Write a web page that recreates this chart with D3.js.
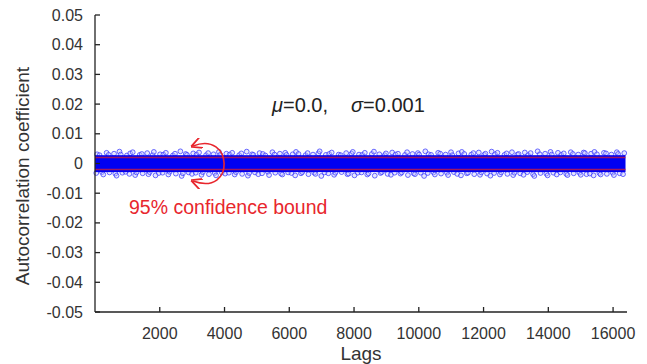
<!DOCTYPE html>
<html><head><meta charset="utf-8">
<script src="https://cdn.jsdelivr.net/npm/d3@7"></script>
<style>body{margin:0;background:#fff}svg{display:block}text{font-family:"Liberation Sans",Arial,Helvetica,sans-serif}</style>
</head><body><svg id="c" width="647" height="364"></svg>
<script>
// ---- data ----
const xTicks = [2000,4000,6000,8000,10000,12000,14000,16000];
const yTicks = [-0.05,-0.04,-0.03,-0.02,-0.01,0,0.01,0.02,0.03,0.04,0.05];
const yTickLabels = ["-0.05","-0.04","-0.03","-0.02","-0.01","0","0.01","0.02","0.03","0.04","0.05"];
const nLags = 16384;
const lagStep = 128;
// dense core of the scatter (solid blue), units 1e-3
const coreBand = [-2.9, 2.8];
// confidence bound, units 1e-3
const confBound = 2.0;
// upper outlying autocorrelation values (units 1e-3), one every 128 lags
const upperVals = [3.1,2.8,3.6,2.9,3.3,4.0,3.0,2.7,3.4,3.8,2.9,3.2,3.5,2.8,3.9,3.1,3.0,3.6,2.7,3.3,4.1,3.2,2.9,3.4,3.0,3.7,2.8,3.5,3.1,3.9,
2.9,3.3,3.0,3.6,2.8,3.4,4.0,3.1,2.9,3.5,3.2,2.7,3.8,3.0,3.3,3.6,2.9,3.1,3.9,3.2,2.8,3.5,3.0,3.4,4.1,2.9,3.2,3.7,3.0,2.8,
3.5,3.3,3.9,3.0,2.9,3.6,3.2,4.0,3.1,2.8,3.4,3.7,3.0,3.3,2.9,3.8,3.2,3.5,3.0,4.1,3.1,2.9,3.6,3.3,3.0,3.8,2.8,3.4,3.9,3.2,
3.0,3.5,3.7,2.9,3.3,4.0,3.1,3.6,2.9,3.4,3.8,3.0,3.2,3.7,2.8,3.5,4.1,3.1,3.3,3.9,3.0,3.6,2.9,3.4,3.8,3.2,3.0,3.7,3.5,3.3,
3.9,3.1,3.6,3.4,3.0,3.8,3.2,3.5];
// lower outlying autocorrelation values (units 1e-3)
const lowerVals = [-3.2,-2.9,-3.7,-3.0,-3.4,-4.1,-3.1,-2.8,-3.5,-3.9,-3.0,-3.3,-3.6,-2.9,-4.0,-3.2,-3.1,-3.7,-2.8,-3.4,-4.2,-3.3,-3.0,-3.5,-3.1,-3.8,-2.9,-3.6,-3.2,-4.0,
-3.0,-3.4,-3.1,-3.7,-2.9,-3.5,-4.1,-3.2,-3.0,-3.6,-3.3,-2.8,-3.9,-3.1,-3.4,-3.7,-3.0,-3.2,-4.0,-3.3,-2.9,-3.6,-3.1,-3.5,-4.2,-3.0,-3.3,-3.8,-3.1,-2.9,
-3.6,-3.4,-4.0,-3.1,-3.0,-3.7,-3.3,-4.1,-3.2,-2.9,-3.5,-3.8,-3.1,-3.4,-3.0,-3.9,-3.3,-3.6,-3.1,-4.2,-3.2,-3.0,-3.7,-3.4,-3.1,-3.9,-2.9,-3.5,-4.0,-3.3,
-3.1,-3.6,-3.8,-3.0,-3.4,-4.1,-3.2,-3.7,-3.0,-3.5,-3.9,-3.1,-3.3,-3.8,-2.9,-3.6,-4.2,-3.2,-3.4,-4.0,-3.1,-3.7,-3.0,-3.5,-3.9,-3.3,-3.1,-3.8,-3.6,-3.4,
-4.0,-3.2,-3.7,-3.5,-3.1,-3.9,-3.3,-3.6];
// lag offsets (fraction of a step) for the outlying points
const upperOffsets = [0.5, 0.1, 0.8, 0.3, 0.6, 0.9, 0.2, 0.7];
const lowerOffsets = [0.3, 0.7, 0.0, 0.5, 0.9, 0.2, 0.6, 0.4];

// ---- chart ----
const svg = d3.select("#c");
const x = d3.scaleLinear().domain([0, 16430]).range([95, 627]);
const y = d3.scaleLinear().domain([-0.05, 0.05]).range([312, 15]);
const k = 1e-3;

const pts = [];
upperVals.forEach((v,i)=>pts.push([ (i+upperOffsets[i%8])*lagStep, v*k ]));
lowerVals.forEach((v,i)=>pts.push([ (i+lowerOffsets[i%8])*lagStep, v*k ]));
svg.append("g").selectAll("circle").data(pts).join("circle")
  .attr("cx", d=>x(d[0])).attr("cy", d=>y(d[1])).attr("r", 2.4)
  .attr("fill", "#c4c4ff").attr("fill-opacity", 0.4)
  .attr("stroke", "#3a3aff").attr("stroke-opacity", 0.75).attr("stroke-width", 1);

// core band
svg.append("rect")
  .attr("x", x(0)).attr("width", x(nLags) - x(0))
  .attr("y", y(coreBand[1]*k)).attr("height", y(coreBand[0]*k) - y(coreBand[1]*k))
  .attr("fill", "#0000f2");

// confidence bounds
[confBound, -confBound].forEach(b=>{
  svg.append("line").attr("x1", x(0)).attr("x2", x(nLags))
    .attr("y1", y(b*k)).attr("y2", y(b*k))
    .attr("stroke", "#e0202a").attr("stroke-width", 1.6).attr("stroke-opacity", 0.7);
});

// axes
const ax = svg.append("g").attr("stroke", "#222").attr("stroke-width", 1.3);
ax.append("line").attr("x1", x(0)).attr("x2", x(0)).attr("y1", y(0.05)).attr("y2", y(-0.05));
ax.append("line").attr("x1", x(0)).attr("x2", x(16430)).attr("y1", y(-0.05)).attr("y2", y(-0.05));
yTicks.forEach((t,i)=>{
  ax.append("line").attr("x1", x(0)).attr("x2", x(0)+5).attr("y1", y(t)).attr("y2", y(t));
  svg.append("text").attr("x", 83).attr("y", y(t)+5.5).attr("text-anchor","end")
    .attr("font-size", 16).attr("fill", "#333").text(yTickLabels[i]);
});
xTicks.forEach(t=>{
  ax.append("line").attr("x1", x(t)).attr("x2", x(t)).attr("y1", y(-0.05)).attr("y2", y(-0.05)-5);
  svg.append("text").attr("x", x(t)).attr("y", 339).attr("text-anchor","middle")
    .attr("font-size", 16).attr("fill", "#333").text(d3.format("d")(t));
});
svg.append("text").attr("x", 361).attr("y", 360).attr("text-anchor","middle")
  .attr("font-size", 19).attr("fill", "#333").text("Lags");
svg.append("text").attr("transform", "translate(29,176) rotate(-90)").attr("text-anchor","middle")
  .attr("font-size", 19).attr("fill", "#333").text("Autocorrelation coefficient");

// stats annotation
const st = svg.append("text").attr("x", 272).attr("y", 112).attr("font-size", 20).attr("fill", "#222");
st.append("tspan").attr("font-style","italic").text("μ");
st.append("tspan").text("=0.0,");
st.append("tspan").attr("dx", 23).attr("font-style","italic").text("σ");
st.append("tspan").text("=0.001");

// confidence annotation
const red = "#e8262d";
const defs = svg.append("defs");
defs.append("marker").attr("id","ah").attr("viewBox","0 0 10 10").attr("refX",8).attr("refY",5)
  .attr("markerWidth",7).attr("markerHeight",7).attr("orient","auto-start-reverse")
  .append("path").attr("d","M0,0 L10,5 L0,10").attr("fill","none").attr("stroke",red).attr("stroke-width",1.6);
svg.append("path").attr("d","M193,146 C233,130 236,197 193,181")
  .attr("fill","none").attr("stroke",red).attr("stroke-width",1.6)
  .attr("marker-start","url(#ah)").attr("marker-end","url(#ah)");
svg.append("text").attr("x", 129).attr("y", 214).attr("font-size", 19.5).attr("fill", red)
  .text("95% confidence bound");
</script></body></html>
